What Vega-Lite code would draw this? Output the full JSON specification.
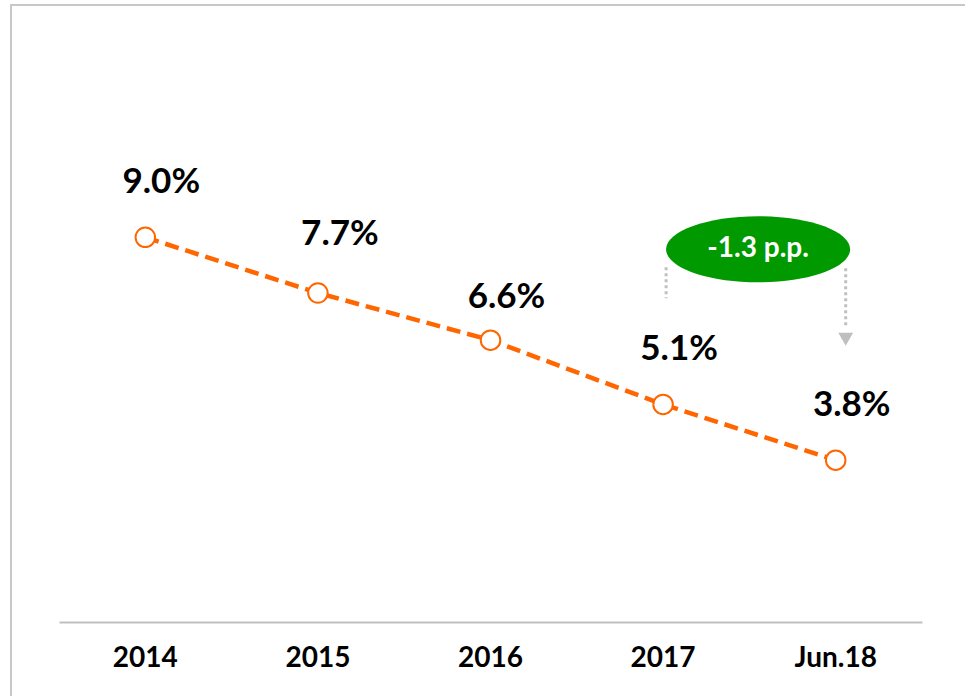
{
  "$schema": "https://vega.github.io/schema/vega-lite/v6.json",
  "autosize": {"type": "none"},
  "padding": {"left": 11, "top": 5, "right": 0, "bottom": 0},
  "width": 956,
  "height": 693,
  "background": "white",
  "config": {
    "view": {"stroke": "#c8c8c8", "strokeWidth": 2},
    "font": "Lato"
  },
  "datasets": {
    "main": [
      {"period": "2014", "rate": 9.0, "label": "9.0%"},
      {"period": "2015", "rate": 7.7, "label": "7.7%"},
      {"period": "2016", "rate": 6.6, "label": "6.6%"},
      {"period": "2017", "rate": 5.1, "label": "5.1%"},
      {"period": "Jun.18", "rate": 3.8, "label": "3.8%"}
    ],
    "badge": [
      {"period": "2017", "y": 8.72, "text": "-1.3 p.p."}
    ],
    "leftGuide": [
      {"period": "2017", "y1": 8.3, "y2": 7.58}
    ],
    "rightGuide": [
      {"period": "Jun.18", "y1": 8.28, "y2": 6.95}
    ],
    "arrowHead": [
      {"period": "Jun.18", "y": 6.62}
    ]
  },
  "encoding": {
    "x": {
      "field": "period",
      "type": "ordinal",
      "sort": null,
      "scale": {"type": "band", "range": [48, 911], "paddingInner": 0, "paddingOuter": 0, "domain": ["2014", "2015", "2016", "2017", "Jun.18"]},
      "axis": {
        "title": null,
        "orient": "bottom",
        "offset": -76,
        "domainColor": "#bfbfbf",
        "domainWidth": 2,
        "ticks": false,
        "grid": false,
        "labelFont": "Lato",
        "labelFontWeight": "bold",
        "labelFontSize": 28,
        "labelColor": "#000000",
        "labelPadding": 22,
        "labelAngle": 0
      }
    }
  },
  "layer": [
    {
      "data": {"name": "main"},
      "mark": {"type": "line", "color": "#ff6600", "strokeWidth": 4.5, "strokeDash": [14, 7]},
      "encoding": {
        "y": {"field": "rate", "type": "quantitative", "scale": {"domain": [-1.75, 14.42], "nice": false, "zero": false}, "axis": null}
      }
    },
    {
      "data": {"name": "main"},
      "mark": {"type": "point", "shape": "circle", "filled": true, "fill": "white", "stroke": "#ff6600", "strokeWidth": 2, "size": 380, "opacity": 1},
      "encoding": {
        "y": {"field": "rate", "type": "quantitative"}
      }
    },
    {
      "data": {"name": "main"},
      "transform": [{"filter": "datum.period != '2015' && datum.period != '2016'"}],
      "mark": {"type": "text", "font": "Lato", "fontWeight": "bold", "fontSize": 35, "color": "#000000", "dx": 16, "dy": -55, "baseline": "middle", "align": "center"},
      "encoding": {
        "y": {"field": "rate", "type": "quantitative"},
        "text": {"field": "label"}
      }
    },
    {
      "data": {"name": "main"},
      "transform": [{"filter": "datum.period == '2015'"}],
      "mark": {"type": "text", "font": "Lato", "fontWeight": "bold", "fontSize": 35, "color": "#000000", "dx": 22, "dy": -59, "baseline": "middle", "align": "center"},
      "encoding": {
        "y": {"field": "rate", "type": "quantitative"},
        "text": {"field": "label"}
      }
    },
    {
      "data": {"name": "main"},
      "transform": [{"filter": "datum.period == '2016'"}],
      "mark": {"type": "text", "font": "Lato", "fontWeight": "bold", "fontSize": 35, "color": "#000000", "dx": 16, "dy": -43, "baseline": "middle", "align": "center"},
      "encoding": {
        "y": {"field": "rate", "type": "quantitative"},
        "text": {"field": "label"}
      }
    },
    {
      "data": {"name": "leftGuide"},
      "mark": {"type": "rule", "color": "#c0c0c0", "strokeWidth": 3, "strokeDash": [3, 3]},
      "encoding": {
        "y": {"field": "y1", "type": "quantitative"},
        "y2": {"field": "y2"},
        "xOffset": {"value": 89.3}
      }
    },
    {
      "data": {"name": "rightGuide"},
      "mark": {"type": "rule", "color": "#c0c0c0", "strokeWidth": 3, "strokeDash": [3, 3]},
      "encoding": {
        "y": {"field": "y1", "type": "quantitative"},
        "y2": {"field": "y2"},
        "xOffset": {"value": 96.3}
      }
    },
    {
      "data": {"name": "arrowHead"},
      "mark": {"type": "point", "shape": "triangle-down", "filled": true, "color": "#bfbfbf", "size": 220, "opacity": 1},
      "encoding": {
        "y": {"field": "y", "type": "quantitative"},
        "xOffset": {"value": 96.3}
      }
    },
    {
      "data": {"name": "badge"},
      "mark": {"type": "point", "shape": "M-1,0A1,0.359,0,1,0,1,0A1,0.359,0,1,0,-1,0Z", "filled": true, "color": "#009900", "size": 33856, "opacity": 1, "strokeWidth": 0},
      "encoding": {
        "y": {"field": "y", "type": "quantitative"},
        "xOffset": {"value": 181.3}
      }
    },
    {
      "data": {"name": "badge"},
      "mark": {"type": "text", "font": "Lato", "fontWeight": "bold", "fontSize": 28, "color": "white", "dx": 95, "baseline": "middle", "align": "center"},
      "encoding": {
        "y": {"field": "y", "type": "quantitative"},
        "text": {"field": "text"}
      }
    }
  ]
}
